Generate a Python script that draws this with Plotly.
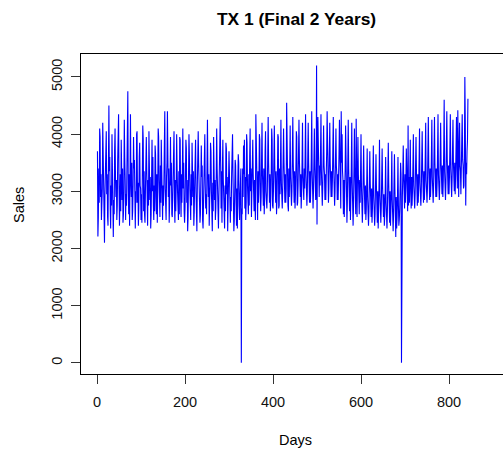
import plotly.graph_objects as go

title_text = "TX 1 (Final 2 Years)"
x_label = "Days"
y_label = "Sales"
x_ticks = [0, 200, 400, 600, 800]
y_ticks = [0, 1000, 2000, 3000, 4000, 5000]

sales = [
    3700, 2210, 2550, 3400, 2800, 4100, 3950,
    2900, 3300, 2500, 2700, 3050, 4200, 3500,
    3100, 2450, 2100, 2950, 3600, 3900, 4050,
    2950, 3300, 2550, 2400, 3500, 4500, 3350,
    3600, 2700, 2350, 3100, 2750, 4000, 3300,
    3000, 2200, 2850, 2600, 3700, 4100, 3200,
    2900, 3200, 2500, 2750, 3550, 3800, 4350,
    3100, 2400, 2800, 3300, 2650, 3900, 3450,
    2850, 3400, 2450, 2600, 3000, 4250, 3600,
    3200, 2500, 2950, 2750, 3900, 4400, 4750,
    3000, 2600, 3300, 2400, 3250, 4350, 3200,
    2900, 3500, 2500, 2650, 3100, 3950, 3400,
    3550, 2550, 2350, 3000, 2800, 4000, 4050,
    2800, 3150, 2400, 2700, 3600, 3850, 3100,
    3050, 2500, 2950, 2450, 3300, 4150, 3900,
    2650, 3350, 2600, 2450, 3000, 3700, 3950,
    3400, 2550, 2400, 3200, 2750, 4050, 3500,
    2850, 3250, 2350, 2600, 3200, 3900, 3000,
    3600, 2750, 2500, 3100, 2650, 3800, 3650,
    2900, 2600, 3300, 2450, 3000, 4100, 3950,
    3200, 2700, 2550, 3450, 2800, 3900, 3300,
    2950, 2500, 3100, 2750, 3150, 4350, 4400,
    3050, 2650, 2500, 3250, 3500, 4400, 3600,
    2900, 3400, 2450, 2800, 3250, 3950, 3100,
    3500, 2600, 2550, 2900, 3300, 3850, 4050,
    2850, 2450, 3200, 2650, 3100, 4000, 3400,
    3000, 2700, 2500, 3350, 2600, 3950, 3900,
    2950, 2550, 3300, 2800, 3400, 4100, 3050,
    3500, 2650, 2450, 2700, 3050, 3900, 3750,
    2800, 3200, 2300, 2550, 3250, 4000, 3600,
    3050, 2700, 2500, 3300, 2750, 3850, 3300,
    2900, 3350, 2400, 2650, 3150, 3750, 3900,
    3000, 2550, 2300, 3100, 3400, 4050, 3500,
    2850, 3150, 2450, 2600, 3000, 3800, 3250,
    3450, 2500, 2350, 2750, 3200, 3900, 4000,
    3100, 2700, 2950, 2600, 3350, 4250, 3350,
    2900, 3300, 2400, 2800, 3100, 3850, 3700,
    3000, 2450, 2300, 3150, 2650, 3950, 3500,
    2850, 3200, 2500, 2700, 3300, 4100, 3400,
    3050, 2550, 2350, 2900, 3150, 3800, 4300,
    3000, 2700, 3350, 2450, 3400, 3900, 3200,
    2900, 2500, 2350, 3100, 2650, 3850, 3750,
    2950, 3250, 2300, 2700, 3050, 3700, 3300,
    2850, 2450, 2900, 2650, 3300, 3800, 4000,
    3300, 2550, 2300, 2500, 3000, 3550, 3450,
    2800, 2400, 3050, 2350, 3150, 3650, 3500,
    2750, 2500, 2900, 3100, 3400, 0, 2700,
    2600, 3400, 2900, 3800, 3300, 3900, 2700,
    3250, 2500, 2800, 4000, 3850, 3100, 2650,
    2600, 3300, 2750, 3600, 4100, 3000, 3400,
    2550, 2850, 3350, 3900, 3300, 3100, 2650,
    3200, 2900, 2500, 4350, 3600, 3050, 2600,
    2500, 3350, 2800, 3200, 4000, 3900, 2950,
    2650, 2900, 3400, 4200, 3300, 3150, 2750,
    3400, 2600, 2850, 3700, 4050, 3000, 2700,
    2700, 2950, 3500, 4300, 3500, 3100, 2800,
    3300, 2650, 2900, 3350, 4100, 3900, 2750,
    2700, 3000, 3450, 4150, 3450, 3200, 2800,
    3350, 2600, 2850, 3300, 4000, 3950, 2700,
    2750, 3400, 2950, 3500, 4250, 3150, 2850,
    2700, 3000, 3400, 4100, 3500, 3200, 2800,
    3300, 2800, 3050, 4550, 3600, 3950, 2750,
    2650, 3400, 2900, 3450, 4150, 3250, 2850,
    2750, 3000, 3550, 4300, 3500, 3200, 2800,
    3350, 2700, 2950, 3400, 4050, 3950, 2750,
    2800, 3100, 3600, 4250, 3550, 3300, 2900,
    3300, 2700, 2950, 3500, 4200, 3250, 2850,
    2850, 3400, 3050, 3650, 4350, 3300, 2900,
    2750, 3000, 3550, 4200, 3500, 3200, 2800,
    3350, 2800, 3100, 3600, 4400, 3350, 2950,
    2700, 3000, 3500, 4100, 3450, 3250, 2850,
    2900, 5200, 2420, 3600, 4300, 3500, 3300,
    2900, 3450, 3100, 3700, 4350, 3350, 2950,
    2750, 3050, 3550, 4150, 3450, 3300, 2850,
    3300, 2850, 3150, 3700, 4400, 3400, 2950,
    2800, 3050, 3600, 4200, 3500, 3250, 2900,
    3350, 2900, 3200, 3750, 4300, 3400, 3000,
    2750, 3000, 3550, 4100, 3450, 3300, 2850,
    3300, 2850, 3100, 3650, 4250, 3350, 2950,
    2700, 4400, 3500, 4000, 3350, 3200, 2600,
    3200, 2550, 2850, 3400, 4150, 3100, 2700,
    2450, 2800, 3350, 4250, 3400, 3050, 2650,
    3250, 2500, 2900, 3450, 4200, 3150, 2700,
    2400, 2750, 3300, 4100, 3350, 3000, 2600,
    4270, 2850, 2550, 3250, 3950, 3300, 2950,
    2600, 3200, 2800, 3350, 4000, 3100, 2550,
    2450, 2750, 3200, 3800, 3200, 2950, 2600,
    3100, 2500, 2700, 3150, 3750, 2900, 2500,
    2400, 2650, 3100, 3700, 3150, 2850, 2550,
    3050, 2450, 2700, 3200, 3800, 2900, 2500,
    2400, 2600, 3050, 3650, 3100, 2850, 2450,
    3000, 2350, 2650, 3150, 3900, 2950, 2500,
    2450, 2700, 3100, 3750, 3100, 2900, 2550,
    2950, 2400, 2600, 3000, 3600, 2800, 2400,
    2350, 2650, 3100, 3850, 3150, 2900, 2450,
    3000, 2400, 2700, 3050, 3700, 2850, 2500,
    2300, 2600, 3000, 3650, 3050, 2800, 2200,
    2900, 2350, 2550, 2950, 3600, 2750, 2400,
    2500, 2700, 3100, 3500, 3300, 0, 2800,
    2900, 3300, 3800, 3250, 2900, 2700, 3300,
    2800, 3200, 3750, 3350, 2950, 2650, 4150,
    2750, 3250, 2800, 3300, 3900, 3000, 2700,
    3250, 2750, 3000, 3450, 4000, 3100, 2800,
    2700, 2950, 3400, 3950, 3350, 3050, 2750,
    3300, 2800, 3050, 3550, 4100, 3150, 2850,
    2750, 3000, 3500, 4050, 3400, 3100, 2800,
    3350, 2850, 3100, 3600, 4200, 3200, 2900,
    2800, 3050, 3550, 4300, 3450, 3150, 2850,
    3400, 2900, 3150, 3650, 4250, 3250, 2950,
    2800, 3100, 3600, 4300, 3500, 3200, 2900,
    3400, 2900, 3150, 3700, 4350, 3300, 3000,
    2850, 3100, 3650, 4200, 3500, 3250, 2950,
    3450, 2900, 3200, 3750, 4600, 3350, 3000,
    2850, 3150, 3700, 4400, 3550, 3300, 2950,
    3450, 2950, 3250, 3800, 4350, 3400, 3050,
    2900, 3200, 3700, 4250, 3500, 3350, 3000,
    3500, 2950, 3300, 3800, 4300, 3400, 3050,
    4420, 3250, 2900, 3750, 4200, 3450, 3350,
    2950, 3300, 3850, 4350, 3550, 3450, 3050,
    3100, 3600, 5000, 4200, 2750, 3500, 3300,
    3700, 3900, 4620,
]
days = list(range(1, len(sales) + 1))

FONT = "Liberation Sans, Arial, sans-serif"

fig = go.Figure()
fig.add_trace(go.Scatter(
    x=days, y=sales, mode="lines",
    line=dict(color="#0000ff", width=1.1),
    showlegend=False, hoverinfo="skip",
))

W, H = 503, 457
L, T, B = 81, 54, 83
fig.update_layout(
    width=W, height=H,
    margin=dict(l=L, r=0, t=T, b=B),
    paper_bgcolor="white", plot_bgcolor="white",
    font=dict(family=FONT, size=14.5, color="black"),
    showlegend=False,
    hovermode=False,
    xaxis=dict(
        range=[-36.4, 922.7], tickvals=x_ticks, ticktext=[str(v) for v in x_ticks],
        showgrid=False, zeroline=False,
        showline=True, linecolor="black", linewidth=1, mirror=True,
        ticks="outside", ticklen=9, tickcolor="#333", tickwidth=1,
        ticklabelstandoff=6,
        tickfont=dict(family=FONT, size=14.5, color="#111"),
    ),
    yaxis=dict(
        range=[-195, 5402], tickvals=y_ticks, ticktext=[str(v) for v in y_ticks],
        showgrid=False, zeroline=False,
        showline=True, linecolor="black", linewidth=1, mirror=False,
        ticks="outside", ticklen=9, tickcolor="#333", tickwidth=1,
        tickangle=-90, ticklabelstandoff=3,
        tickfont=dict(family=FONT, size=14.5, color="#111"),
    ),
    annotations=[
        dict(text="<b>" + title_text + "</b>", x=296, y=H - 18.5, xref="paper", yref="paper",
             showarrow=False, font=dict(family=FONT, size=17.4, color="black"),
             xanchor="center", yanchor="middle"),
        dict(text=x_label, x=295, y=H - 440, xref="paper", yref="paper",
             showarrow=False, font=dict(family=FONT, size=14.5, color="black"),
             xanchor="center", yanchor="middle"),
        dict(text=y_label, x=19, y=H - 205, xref="paper", yref="paper", textangle=-90,
             showarrow=False, font=dict(family=FONT, size=14.5, color="black"),
             xanchor="center", yanchor="middle"),
    ],
)

# convert annotation pixel positions to paper coords
pw, ph = W - L, H - T - B
for a in fig.layout.annotations:
    a.x = (a.x - L) / pw
    a.y = (a.y - B) / ph

fig.write_html("out.html", config={"displayModeBar": False, "staticPlot": True})

# remove the browser's default page margin so the figure sits at (0, 0)
with open("out.html", "r", encoding="utf-8") as f:
    html = f.read()
html = html.replace("<head>", "<head><style>html,body{margin:0;padding:0;overflow:hidden;}</style>", 1)
with open("out.html", "w", encoding="utf-8") as f:
    f.write(html)
